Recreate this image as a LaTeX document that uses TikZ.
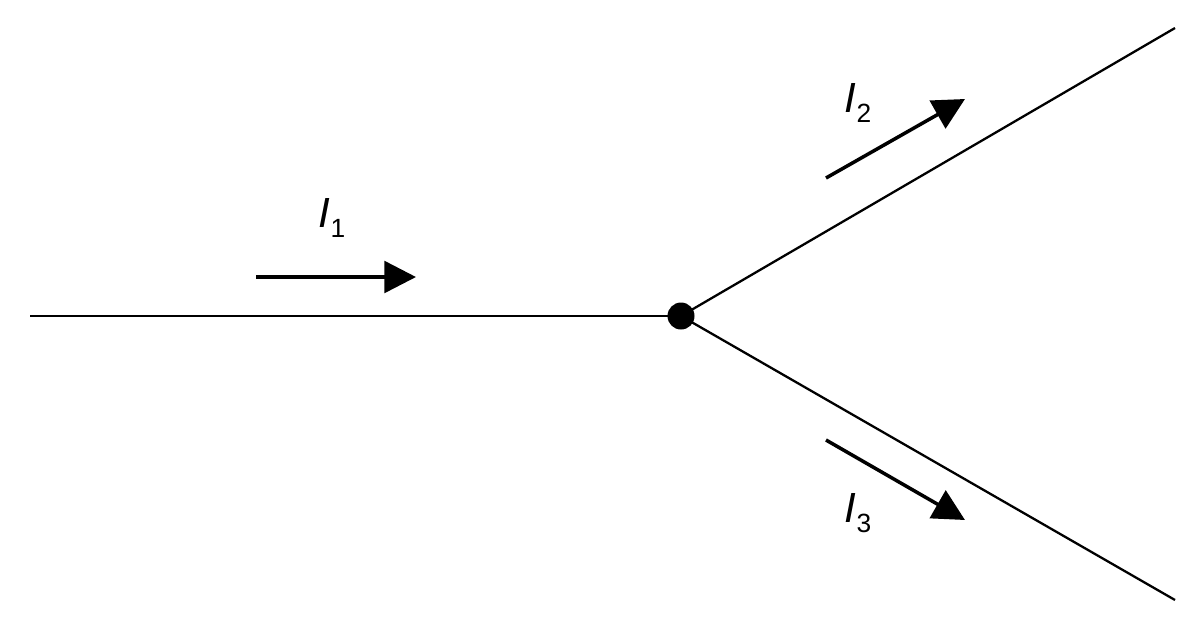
\documentclass[tikz,border=0pt]{standalone}
\usepackage{fontspec}
\setmainfont{Liberation Sans}
\usetikzlibrary{arrows.meta}
\begin{document}
\begin{tikzpicture}[x=0.02cm,y=-0.02cm,
  wire/.style={line width=1.3pt},
  cur/.style={line width=2pt,-{Triangle[length=18pt,width=18pt]}},
  lbl/.style={font=\fontsize{24}{28}\selectfont}]
\useasboundingbox (0,0) rectangle (1204,630);
\node[circle,fill=black,minimum size=0.54cm,inner sep=0] (j) at (681,316) {};
\coordinate (a) at (30,316);
\coordinate (b) at (1175,28);
\coordinate (c) at (1175,600);
\draw[wire] (a) -- (j.center);
\draw[wire] (j.center) -- (b);
\draw[wire] (j.center) -- (c);
\coordinate (p1) at (256,277); \coordinate (q1) at (416,277);
\coordinate (p2) at (826,178); \coordinate (q2) at (965,99);
\coordinate (p3) at (826,440); \coordinate (q3) at (965,520);
\draw[cur] (p1) -- (q1);
\draw[cur] (p2) -- (q2);
\draw[cur] (p3) -- (q3);
\node[lbl] (l1) at (332,218) {\textit{I}\raisebox{-0.45ex}{\fontsize{15}{18}\selectfont 1}};
\node[lbl] (l2) at (858,103) {\textit{I}\raisebox{-0.45ex}{\fontsize{15}{18}\selectfont 2}};
\node[lbl] (l3) at (858,513) {\textit{I}\raisebox{-0.45ex}{\fontsize{15}{18}\selectfont 3}};
\end{tikzpicture}
\end{document}
